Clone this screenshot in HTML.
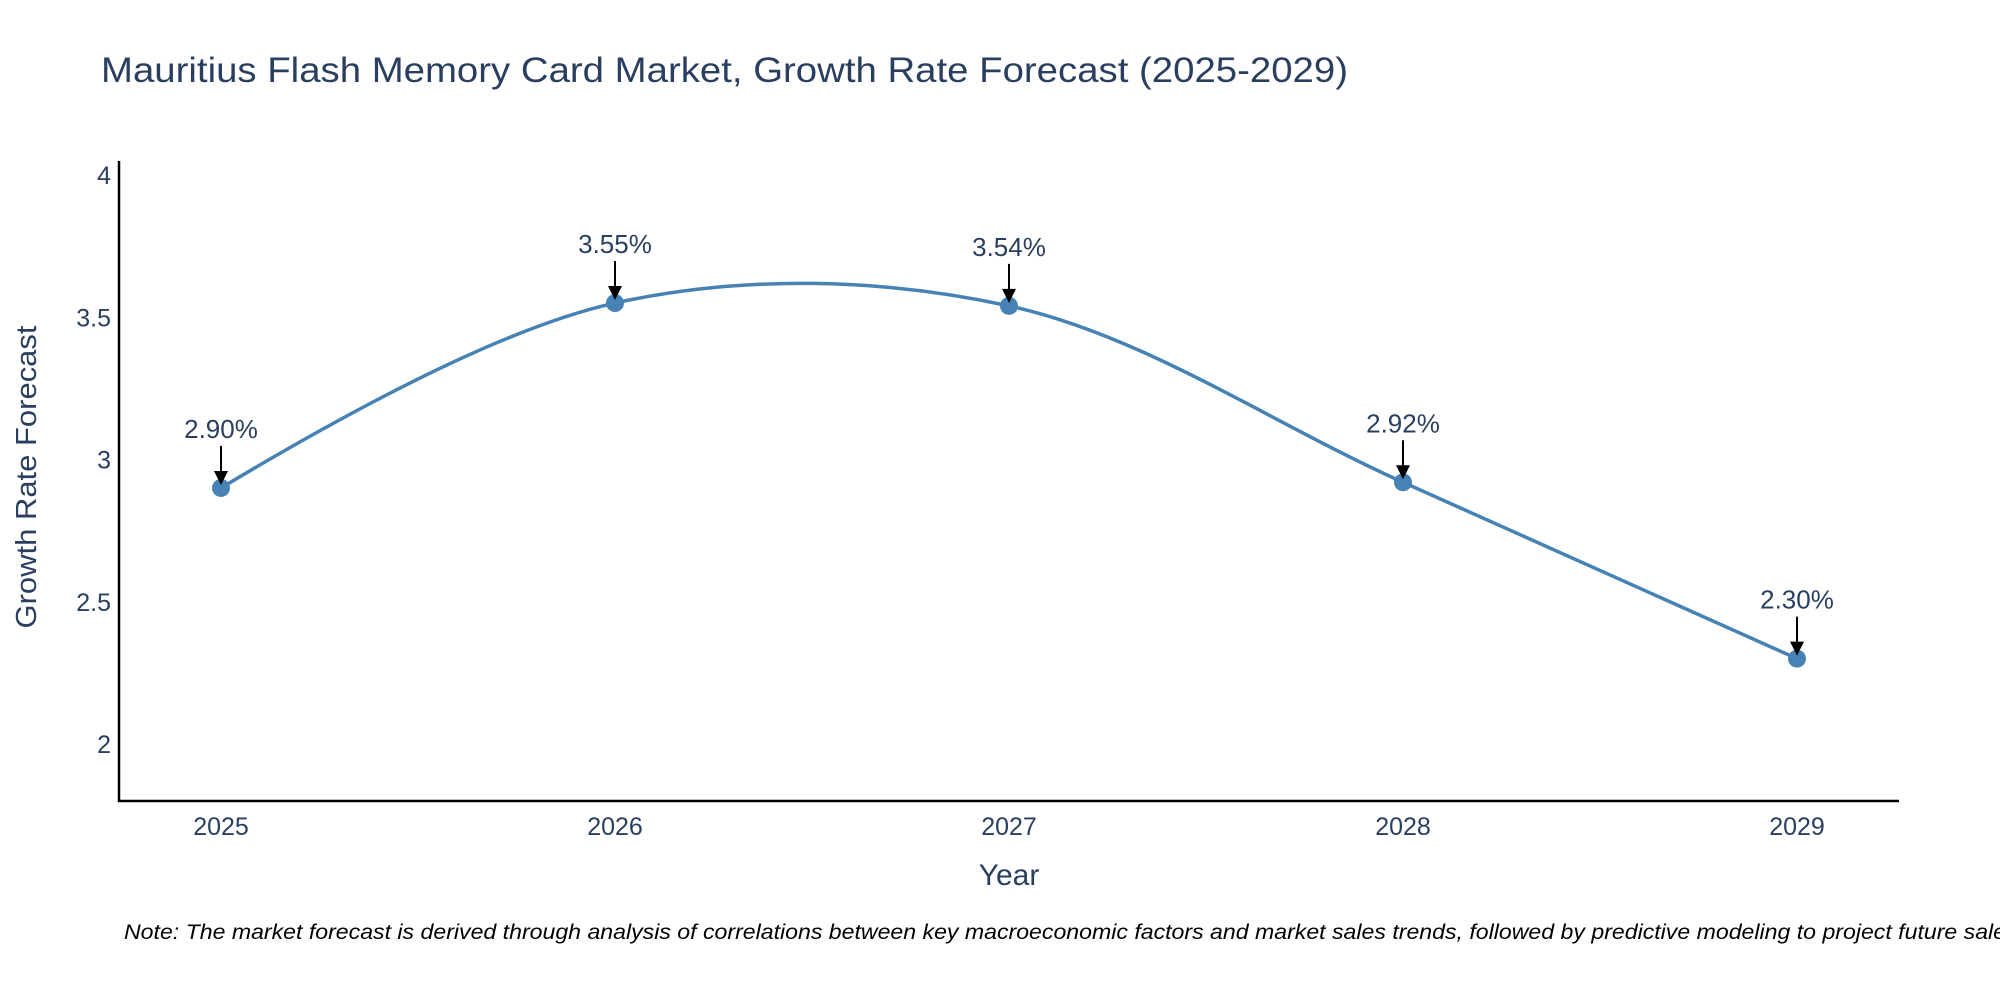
<!DOCTYPE html>
<html><head><meta charset="utf-8"><style>
html,body{margin:0;padding:0;background:#fff;}
svg{display:block;font-family:"Liberation Sans",sans-serif;}
</style></head><body>
<svg id="chart" width="2000" height="1000" viewBox="0 0 2000 1000">
<text x="101" y="82" font-size="35" fill="#2a3f5f" textLength="1247" lengthAdjust="spacingAndGlyphs">Mauritius Flash Memory Card Market, Growth Rate Forecast (2025-2029)</text>
<g id="yticks"></g>
<g id="xticks"></g>
<line x1="119" y1="161" x2="119" y2="802" stroke="#000" stroke-width="2.5"/>
<line x1="118" y1="801" x2="1899" y2="801" stroke="#000" stroke-width="2.5"/>
<text x="1009" y="885" font-size="30" fill="#2a3f5f" text-anchor="middle">Year</text>
<text transform="translate(36,477) rotate(-90)" font-size="29" fill="#2a3f5f" text-anchor="middle" textLength="303" lengthAdjust="spacingAndGlyphs">Growth Rate Forecast</text>
<path id="line" fill="none" stroke="#4682b4" stroke-width="3.5"/>
<g id="marks"></g>
<g id="annots"></g>
<text x="124" y="939" font-size="21" font-style="italic" fill="#000" textLength="1900" lengthAdjust="spacingAndGlyphs">Note: The market forecast is derived through analysis of correlations between key macroeconomic factors and market sales trends, followed by predictive modeling to project future sales.</text>
</svg>
<script>
const years = [2025, 2026, 2027, 2028, 2029];
const growth = [2.90, 3.55, 3.54, 2.92, 2.30];
const labels = ["2.90%", "3.55%", "3.54%", "2.92%", "2.30%"];
const yTicks = [2, 2.5, 3, 3.5, 4];
const yTickLabels = ["2", "2.5", "3", "3.5", "4"];

const NS = "http://www.w3.org/2000/svg";
function xs(v){ return 221 + (v - 2025) * 394; }
function ys(v){ return 744 - (v - 2) * 284.5; }
function mk(tag, attrs, parent){
  const e = document.createElementNS(NS, tag);
  for (const k in attrs) e.setAttribute(k, attrs[k]);
  parent.appendChild(e); return e;
}
const yt = document.getElementById('yticks');
yTicks.forEach((t,i)=>{
  const e = mk('text',{x:111,y:ys(t)+9,'font-size':25,fill:'#2a3f5f','text-anchor':'end'},yt);
  
  
  e.textContent = yTickLabels[i];
});
const xt = document.getElementById('xticks');
years.forEach(y=>{
  const e = mk('text',{x:xs(y),y:835,'font-size':25,fill:'#2a3f5f','text-anchor':'middle'},xt);
  
  
  e.textContent = String(y);
});
const pts = years.map((y,i)=>[xs(y), ys(growth[i])]);
function tangent(p, t, n, s){
  const d1x=p[0]-t[0], d1y=p[1]-t[1], d2x=n[0]-t[0], d2y=n[1]-t[1];
  const d1a=Math.pow(d1x*d1x+d1y*d1y,0.25), d2a=Math.pow(d2x*d2x+d2y*d2y,0.25);
  const nx=(d2a*d2a*d1x-d1a*d1a*d2x)*s, ny=(d2a*d2a*d1y-d1a*d1a*d2y)*s;
  const den1=3*d2a*(d1a+d2a), den2=3*d1a*(d1a+d2a);
  return [[t[0]+nx/den1, t[1]+ny/den1],[t[0]-nx/den2, t[1]-ny/den2]];
}
const tg=[];
for(let i=1;i<pts.length-1;i++) tg.push(tangent(pts[i-1],pts[i],pts[i+1],1));
let d = `M${pts[0]} Q${tg[0][0]} ${pts[1]}`;
for(let i=2;i<pts.length-1;i++) d += ` C${tg[i-2][1]} ${tg[i-1][0]} ${pts[i]}`;
d += ` Q${tg[tg.length-1][1]} ${pts[pts.length-1]}`;
document.getElementById('line').setAttribute('d', d);
const mg = document.getElementById('marks');
const ag = document.getElementById('annots');
pts.forEach((p,i)=>{
  const c = mk('circle',{cx:p[0],cy:p[1],r:9,fill:'#4682b4'},mg);
  
  
  const l = mk('line',{x1:p[0],y1:p[1]-42,x2:p[0],y2:p[1]-14,stroke:'#000','stroke-width':2},ag);
  
  
  const h = mk('polygon',{points:`${p[0]-7},${p[1]-17} ${p[0]+7},${p[1]-17} ${p[0]},${p[1]-3}`,fill:'#000'},ag);
  
  
  const t = mk('text',{x:p[0],y:p[1]-50,'font-size':26,fill:'#2a3f5f','text-anchor':'middle'},ag);
  
  
  t.textContent = labels[i];
});
</script>
</body></html>
